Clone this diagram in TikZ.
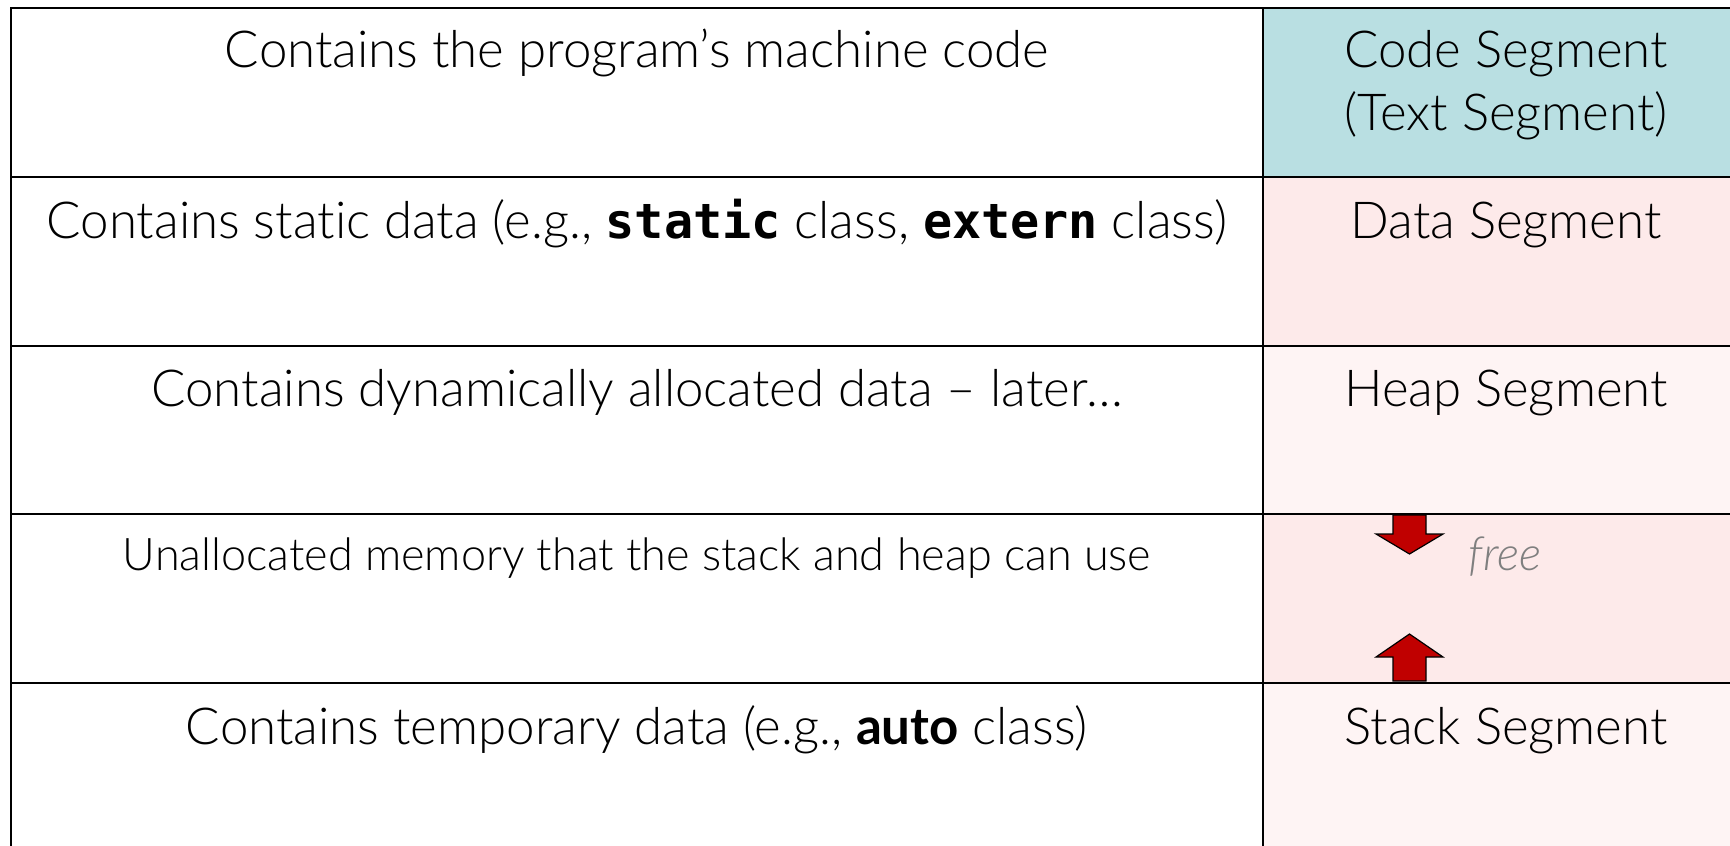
\documentclass[tikz,border=0pt]{standalone}
\usepackage{fontspec}
\setmainfont{Lato}[UprightFont=* Light, ItalicFont=* Light Italic, BoldFont=* Bold, Ligatures=NoCommon]
\newfontfamily\codefont{DejaVu Sans Mono}[BoldFont=* Bold, Scale=0.95]
\definecolor{codefill}{HTML}{B9DFE2}
\definecolor{pinkA}{HTML}{FDEAEA}
\definecolor{pinkB}{HTML}{FEF4F4}
\definecolor{arrowred}{HTML}{C00000}
\definecolor{freegray}{HTML}{7F7F7F}
\newcommand{\kw}[1]{{\codefont\bfseries #1}}
\begin{document}
\begin{tikzpicture}[x=1pt,y=-1pt,
  grid/.style={line width=2.6pt, draw=black},
  big/.style={font=\fontsize{51}{63}\selectfont, inner sep=0pt, anchor=base},
  small/.style={font=\fontsize{45}{55}\selectfont, inner sep=0pt, anchor=base},
  freelbl/.style={font=\fontsize{47}{55}\selectfont\itshape, text=freegray, inner sep=0pt, anchor=base},
  arr/.style={fill=arrowred, draw=black, line width=1.2pt, line join=miter}]
\useasboundingbox (0,0) rectangle (1730,846);
\begin{scope}
\clip (0,0) rectangle (1730,846);
% fills
\fill[codefill] (1263,8) rectangle (1760,177);
\fill[pinkA] (1263,177) rectangle (1760,346);
\fill[pinkB] (1263,346) rectangle (1760,514);
\fill[pinkA] (1263,514) rectangle (1760,683);
\fill[pinkB] (1263,683) rectangle (1760,870);
% arrows
\draw[arr] (1393,515) -- (1426,515) -- (1426,534) -- (1443,534) -- (1409.5,554) -- (1376,534) -- (1393,534) -- cycle;
\draw[arr] (1393,681) -- (1426,681) -- (1426,657) -- (1443,657) -- (1409.5,634) -- (1376,657) -- (1393,657) -- cycle;
% grid
\draw[grid] (11,870) -- (11,8) -- (1760,8);
\draw[grid] (1263,8) -- (1263,870);
\draw[grid] (11,177) -- (1760,177);
\draw[grid] (11,346) -- (1760,346);
\draw[grid] (11,514) -- (1760,514);
\draw[grid] (11,683) -- (1760,683);
\end{scope}
% left texts
\node[big] (d1) at (637,67) {Contains the program’s machine code};
\node[big] (d2) at (637,238) {Contains static data (e.g., \kw{static} class, \kw{extern} class)};
\node[big] (d3) at (637,406) {Contains dynamically allocated data – later…};
\node[small] (d4) at (637,570) {Unallocated memory that the stack and heap can use};
\node[big] (d5) at (637,744) {Contains temporary data (e.g., \textbf{auto} class)};
% right texts
\node[big] (s1a) at (1506,67) {Code Segment};
\node[big] (s1b) at (1506,130) {(Text Segment)};
\node[big] (s2) at (1506,238) {Data Segment};
\node[big] (s3) at (1506,406) {Heap Segment};
\node[freelbl] (fr) at (1505,570) {free};
\node[big] (s5) at (1506,744) {Stack Segment};
\end{tikzpicture}
\end{document}
